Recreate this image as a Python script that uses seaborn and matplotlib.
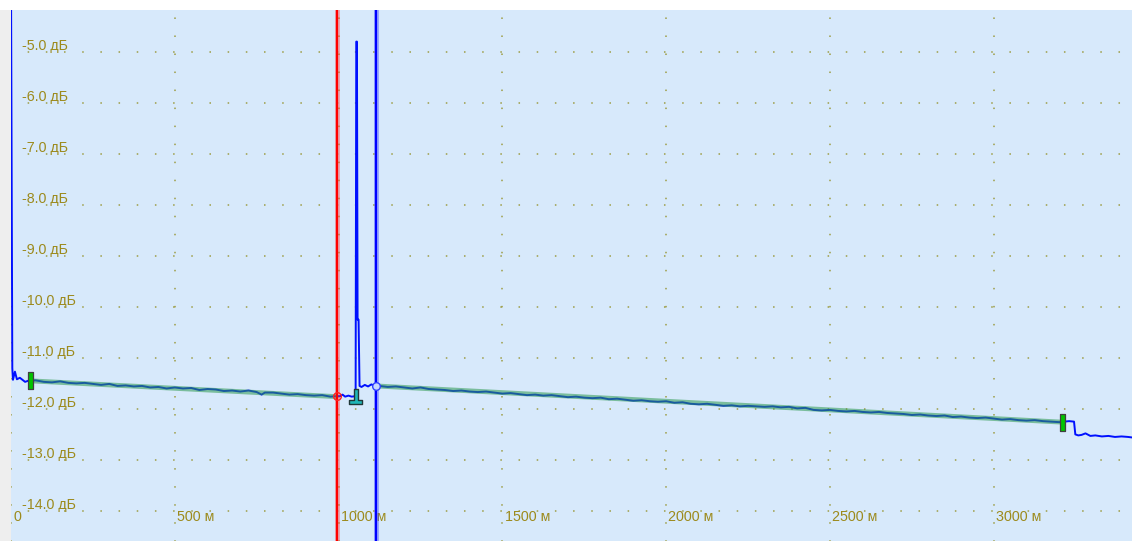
import numpy as np
import pandas as pd
import matplotlib
matplotlib.use("Agg")
import matplotlib.pyplot as plt
from matplotlib.path import Path
import seaborn as sns

# ---------------- data ----------------
dist_m = [0, 4, 6, 12, 18, 27, 43, 52,
          75, 100, 125, 150, 175, 200, 225, 250, 275, 300, 325, 350, 375, 400,
          425, 450, 475, 500, 525, 550, 575, 600, 625, 650, 675, 700, 725, 750,
          765, 775, 800, 825, 850, 875, 900, 925, 950, 975, 994,
          1005, 1012, 1020, 1030, 1040, 1050, 1052, 1054, 1056, 1058, 1061, 1064,
          1070, 1080, 1090, 1100, 1110, 1125, 1150, 1175, 1200, 1225, 1250, 1275,
          1300, 1325, 1350, 1375, 1400, 1425, 1450, 1475, 1500, 1525, 1550, 1575,
          1600, 1625, 1650, 1675, 1700, 1725, 1750, 1775, 1800, 1825, 1850, 1875,
          1900, 1925, 1950, 1975, 2000, 2025, 2050, 2075, 2100, 2125, 2150, 2175,
          2200, 2225, 2250, 2275, 2300, 2325, 2350, 2375, 2400, 2425, 2450, 2475,
          2500, 2525, 2550, 2575, 2600, 2625, 2650, 2675, 2700, 2725, 2750, 2775,
          2800, 2825, 2850, 2875, 2900, 2925, 2950, 2975, 3000, 3025, 3050, 3075,
          3100, 3125, 3150, 3175, 3200, 3215, 3230, 3245, 3249, 3258, 3268, 3280,
          3295, 3310, 3330, 3350, 3370, 3390, 3410, 3422]
level_db = [-3.5, -11.2, -11.43, -11.27, -11.42, -11.39, -11.47, -11.45,
            -11.44, -11.47, -11.48, -11.46, -11.49, -11.50, -11.49, -11.51, -11.53, -11.51, -11.55, -11.54, -11.56, -11.55,
            -11.58, -11.57, -11.60, -11.58, -11.60, -11.59, -11.63, -11.61, -11.62, -11.65, -11.64, -11.66, -11.64, -11.67,
            -11.72, -11.68, -11.68, -11.70, -11.72, -11.71, -11.73, -11.74, -11.73, -11.76, -11.75,
            -11.75, -11.72, -11.76, -11.74, -11.76, -11.75, -11.75, -4.80, -4.80, -10.25, -10.25, -11.55,
            -11.57, -11.53, -11.56, -11.52, -11.55, -11.55, -11.57, -11.56, -11.58, -11.60, -11.58, -11.61,
            -11.62, -11.63, -11.65, -11.64, -11.66, -11.67, -11.66, -11.68, -11.70, -11.69, -11.71, -11.73,
            -11.72, -11.74, -11.73, -11.75, -11.77, -11.76, -11.78, -11.79, -11.78, -11.81, -11.80, -11.82,
            -11.84, -11.83, -11.85, -11.86, -11.85, -11.88, -11.87, -11.90, -11.91, -11.90, -11.92, -11.94,
            -11.93, -11.95, -11.94, -11.95, -11.96, -11.95, -11.97, -11.96, -11.99, -11.98, -12.02, -12.03,
            -12.02, -12.04, -12.05, -12.04, -12.06, -12.07, -12.06, -12.08, -12.09, -12.10, -12.12, -12.11,
            -12.13, -12.14, -12.13, -12.16, -12.15, -12.17, -12.18, -12.17, -12.19, -12.21, -12.20, -12.22,
            -12.23, -12.22, -12.24, -12.25, -12.26, -12.25, -12.24, -12.25, -12.50, -12.52, -12.51, -12.48,
            -12.53, -12.52, -12.54, -12.53, -12.55, -12.54, -12.55, -12.56]

fit_a_m = [59, 994]
fit_a_db = [-11.45, -11.76]
fit_b_m = [1114, 3209]
fit_b_db = [-11.55, -12.26]

cursor_a_m = 994
cursor_b_m = 1114
cursor_a_db = -11.75
cursor_b_db = -11.55

end_markers_m = [59, 3209]
end_markers_db = [-11.44, -12.255]
event_m = [1049]
event_db = [-11.755]

y_ticks = [-5.0, -6.0, -7.0, -8.0, -9.0, -10.0, -11.0, -12.0, -13.0, -14.0]
x_ticks = [0, 500, 1000, 1500, 2000, 2500, 3000]
x_tick_labels = ["0", "500 м", "1000 м", "1500 м", "2000 м", "2500 м", "3000 м"]

x_range = [0, 3422]
y_range = [-14.59, -4.18]

# ---------------- style ----------------
sns.set_style("white")
plt.rcParams['font.family'] = ['Liberation Sans', 'DejaVu Sans']

W, H, DPI = 1132, 541, 100
fig = plt.figure(figsize=(W / DPI, H / DPI), dpi=DPI, facecolor="white")
# grey strip on the left
fig.patches.append(plt.Rectangle((0, 0), 11 / W, 1 - 10 / H, transform=fig.transFigure,
                                 facecolor="#eeeeee", edgecolor="none", zorder=0))
ax = fig.add_axes([11 / W, 0, 1 - 11 / W, 1 - 10 / H])
ax.set_facecolor("#d7e9fb")
for s in ax.spines.values():
    s.set_visible(False)

ax.set_xlim(*x_range)
ax.set_ylim(*y_range)
ax.set_xticks([])
ax.set_yticks([])

grid_col = "#9d9d45"
for yv in y_ticks:
    ax.axhline(yv, color=grid_col, lw=1.1, linestyle=(1.0, (1, 10.9)), zorder=1)
for xv in x_ticks:
    ax.axvline(xv, color=grid_col, lw=1.1, linestyle=(0.5, (1, 10.8)), zorder=1)

txt_col = "#9c8a1c"
for yv in y_ticks:
    ax.annotate(f"{yv:.1f} дБ", xy=(0, yv), xycoords=("axes fraction", "data"),
                xytext=(8.0, 4.5), textcoords="offset points",
                ha="left", va="center", fontsize=10.3, color=txt_col, zorder=2)
for xv, lab in zip(x_ticks, x_tick_labels):
    ax.annotate(lab, xy=(xv, y_ticks[-1]), xycoords="data",
                xytext=(1.6, -4.3), textcoords="offset points",
                ha="left", va="center", fontsize=10.3, color=txt_col, zorder=2)

# trace
df = pd.DataFrame({"dist": dist_m, "db": level_db})
sns.lineplot(data=df, x="dist", y="db", ax=ax, sort=False, estimator=None,
             color="#0010ff", lw=1.4, zorder=4)

# fit lines (translucent green over trace)
ax.plot(fit_a_m, fit_a_db, color="#2e9a50", alpha=0.55, lw=3.5, zorder=5,
        solid_capstyle="butt")
ax.plot(fit_b_m, fit_b_db, color="#2e9a50", alpha=0.55, lw=3.5, zorder=5,
        solid_capstyle="butt")

# cursors
ax.axvline(cursor_a_m, color="#ff3030", alpha=0.35, lw=3.6, zorder=6)
ax.axvline(cursor_a_m, color="#ff0000", lw=1.6, zorder=6)
ax.axvline(cursor_b_m, color="#3030ff", alpha=0.35, lw=3.6, zorder=6)
ax.axvline(cursor_b_m, color="#0000ff", lw=1.6, zorder=6)
ax.plot([cursor_a_m], [cursor_a_db], marker="o", ms=5.5, mfc="none", mec="#ff2020",
        mew=1.0, zorder=7)
ax.plot([cursor_b_m], [cursor_b_db], marker="o", ms=5.5, mfc="#c8d8ff", mec="#3040ff",
        mew=1.0, zorder=7)

# end markers: narrow rectangle
rect = Path([(-2.5, -8.5), (2.5, -8.5), (2.5, 8.5), (-2.5, 8.5), (-2.5, -8.5)],
            [Path.MOVETO, Path.LINETO, Path.LINETO, Path.LINETO, Path.CLOSEPOLY])
ax.plot(end_markers_m, end_markers_db, ls="none", marker=rect, ms=17 * 72 / DPI,
        mfc="#00c400", mec="#404040", mew=0.9, zorder=8)

# event marker: inverted-T shape
lpath = Path([(-1.5, 7.5), (2.5, 7.5), (2.5, -3.5), (6.5, -3.5), (6.5, -7.5),
              (-6.5, -7.5), (-6.5, -3.5), (-1.5, -3.5), (-1.5, 7.5)],
             [Path.MOVETO] + [Path.LINETO] * 7 + [Path.CLOSEPOLY])
ax.plot(event_m, event_db, ls="none", marker=lpath, ms=15 * 72 / DPI,
        mfc="#20b8b8", mec="#203838", mew=1.0, zorder=8)

fig.savefig("out.png", dpi=DPI, facecolor="white")
